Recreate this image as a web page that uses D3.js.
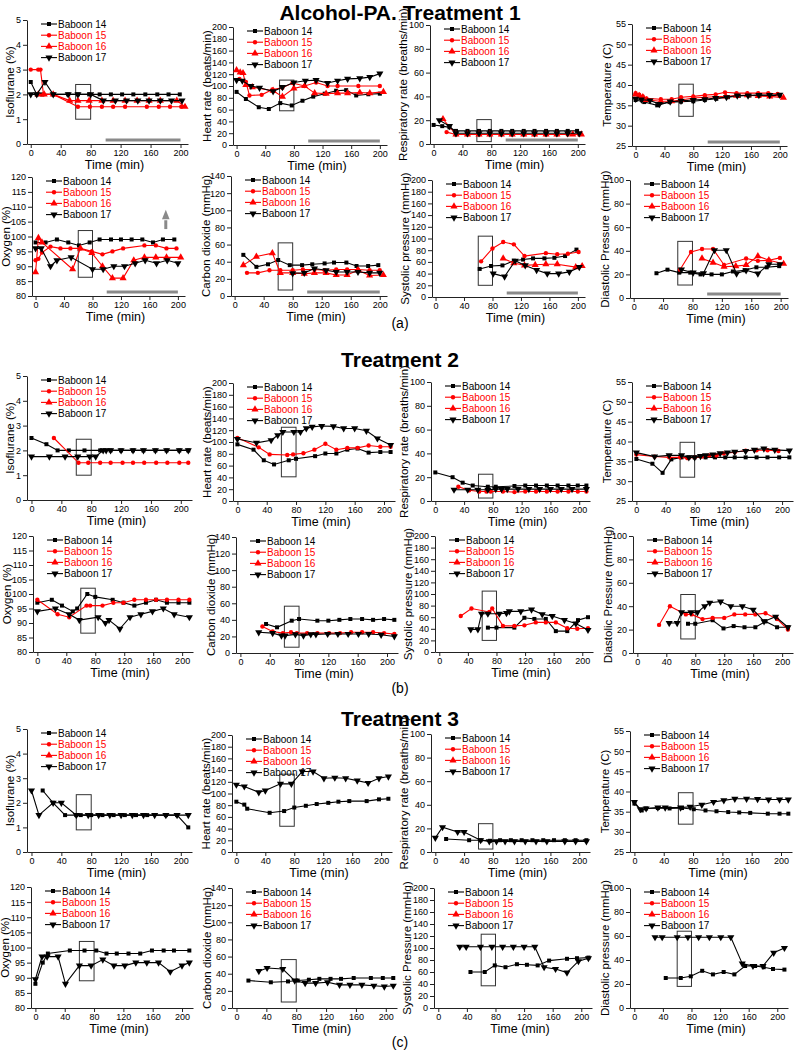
<!DOCTYPE html>
<html><head><meta charset="utf-8">
<script src="https://cdn.jsdelivr.net/npm/d3@7"></script>
<style>
body{margin:0;background:#fff}
svg{display:block}
text{font-family:"Liberation Sans",Arial,sans-serif}
</style>
</head><body>
<svg id="c" width="800" height="1050"></svg>
<script>
// ---------------- DATA ([time (min), value]) ----------------
// Treatment 1
const t1_iso_b14 = [[0,2.5],[8,2],[15,2],[30,2],[50,2],[63,2],[78,2],[92,2],[107,2],[122,2],[137,2],[153,2],[169,2],[184,2],[199,2]];
const t1_iso_b15 = [[0,3],[10,3],[13,3],[17,2],[30,2],[63,1.5],[79,1.5],[95,1.5],[110,1.5],[126,1.5],[155,1.5],[171,1.5],[186,1.5],[201,1.5]];
const t1_iso_b16 = [[10,2],[18,2],[30,2],[52,1.75],[63,1.75],[78,1.75],[95,1.75],[110,1.75],[126,1.75],[142,1.75],[158,1.75],[173,1.75],[195,1.75],[206,1.5]];
const t1_iso_b17 = [[0,2],[8,2],[19,2.5],[30,2],[50,2],[63,2],[80,2],[97,1.75],[113,1.75],[128,1.75],[143,1.75],[158,1.75],[173,1.75],[188,1.75],[202,1.75]];

const t1_hr_b14 = [[0,90],[13,78],[31,64],[45,61],[61,71],[77,67],[92,75],[107,82],[123,87],[139,92],[153,93],[167,84],[184,86],[200,87]];
const t1_hr_b15 = [[4,112],[13,107],[18,84],[35,85],[50,94],[64,97],[78,105],[95,100],[111,106],[127,100],[141,100],[170,100],[200,100]];
const t1_hr_b16 = [[0,127],[5,123],[9,122],[13,102],[22,98],[51,92],[64,82],[80,96],[95,100],[109,88],[125,87],[141,88],[155,88],[172,89],[186,88],[205,90]];
const t1_hr_b17 = [[0,110],[8,109],[20,100],[32,97],[51,91],[64,98],[80,106],[96,109],[111,110],[127,105],[141,109],[155,112],[172,113],[186,115],[200,121]];

const t1_rr_b14 = [[0,16],[12,15],[22,14],[31,11],[47,11],[63,11],[78,11],[94,11],[109,11],[125,11],[140,11],[156,11],[171,11],[186,11],[199,11]];
const t1_rr_b15 = [[18,10],[31,8],[47,8],[63,8],[78,8],[94,8],[109,8],[125,8],[140,8],[156,8],[171,8],[186,8],[202,8]];
const t1_rr_b16 = [[13,21],[31,8],[47,8],[63,8],[78,8],[94,8],[109,8],[125,8],[140,8],[156,8],[171,8],[193,8],[205,8]];
const t1_rr_b17 = [[8,20],[22,15],[31,9],[47,9],[63,9],[78,9],[94,9],[109,9],[125,9],[140,9],[156,9],[171,9],[186,9],[202,9]];

const t1_temp_b14 = [[0,36.3],[12,35.8],[30,35.0],[47,35.8],[63,35.9],[80,36.0],[96,36.3],[112,36.6],[128,37.0],[143,37.3],[158,37.4],[172,37.5],[186,37.4],[200,37.4]];
const t1_temp_b15 = [[0,38.0],[5,37.6],[10,37.2],[15,36.7],[35,36.5],[50,36.5],[63,37.0],[80,37.2],[96,37.5],[111,37.7],[124,38.2],[140,38.0],[155,38.0],[170,38.0],[184,38.0],[197,37.8]];
const t1_temp_b16 = [[0,37.7],[5,37.3],[10,37.0],[15,36.3],[35,36.0],[50,36.0],[63,36.3],[80,36.8],[96,37.0],[111,37.1],[125,37.2],[140,37.4],[155,37.5],[170,37.3],[186,37.2],[205,36.9]];
const t1_temp_b17 = [[0,36.6],[8,36.4],[20,36.2],[33,35.3],[48,35.9],[63,36.1],[80,36.3],[96,36.5],[111,36.8],[126,37.0],[141,37.4],[156,37.4],[171,37.5],[186,37.5],[200,37.6]];

const t1_o2_b14 = [[0,98],[14,98],[30,99],[46,98],[61,97],[76,98],[90,99],[106,99],[120,99],[135,99],[150,99],[165,98],[179,99],[195,99]];
const t1_o2_b15 = [[0,92],[4,92.5],[9,94.6],[21,96.6],[35,96],[49,96],[63,96],[79,95],[94,94],[108,95],[123,96],[153,97],[169,97],[184,96],[198,96]];
const t1_o2_b16 = [[0,88],[4,99.5],[9,98],[52,89],[63,96],[79,94.5],[94,90],[108,86],[123,86],[138,92],[153,93],[169,93],[184,93],[204,93]];
const t1_o2_b17 = [[0,96],[8,96],[21,90],[30,92],[50,93],[80,89],[95,89],[110,90],[125,90],[140,91],[154,92],[170,91],[185,92],[200,91]];

const t1_co2_b14 = [[12,48],[30,34],[46,37],[60,42],[76,36],[93,36],[107,37],[124,38],[137,39],[154,39],[168,35],[184,35],[198,36]];
const t1_co2_b15 = [[17,27],[32,27],[48,30],[63,30],[80,30],[94,31],[110,31],[124,30],[140,31],[155,31],[170,31],[186,30],[200,30]];
const t1_co2_b16 = [[12,36],[30,46],[52,50],[63,27],[80,27],[96,26],[110,27],[126,27],[140,24.5],[155,24.5],[170,30],[186,24],[205,24.5]];
const t1_co2_b17 = [[80,26.5],[96,27],[110,32],[126,30],[140,28],[155,28],[170,28],[186,27],[200,27]];

const t1_sys_b14 = [[62,48],[78,53],[94,54],[110,62],[123,64],[137,66],[153,66],[167,67],[182,70],[198,81]];
const t1_sys_b15 = [[64,61],[80,83],[95,94],[110,90],[125,70],[155,75],[171,73],[186,74],[201,77]];
const t1_sys_b16 = [[95,66],[110,58],[125,54],[140,55],[155,56],[171,56],[197,51],[206,53]];
const t1_sys_b17 = [[81,40],[97,35],[112,62],[126,54],[142,46],[157,40],[173,40],[188,43],[202,51]];

const t1_dia_b14 = [[31,21],[46,24],[62,21.5],[77,21.5],[91,20],[106,20],[120,20],[135,22.5],[151,23.5],[167,26],[181,26],[198,27]];
const t1_dia_b15 = [[63,24],[78,39],[93,41.5],[108,41.5],[123,28],[153,33.5],[169,31.5],[184,32],[199,34]];
const t1_dia_b16 = [[93,33.5],[108,30],[123,26.5],[139,27],[153,28],[169,35.5],[184,32],[204,29]];
const t1_dia_b17 = [[65,24],[81,21.5],[95,21],[110,40.5],[126,40.5],[140,20.7],[153,23.5],[169,20.7],[184,28.6],[199,28.6]];

// Treatment 2
const t2_iso_b14 = [[0,2.5],[20,2.25],[35,2],[50,2],[71,2],[92,2],[106,2],[120,2],[136,2],[150,2],[166,2],[181,2],[198,2],[210,2]];
const t2_iso_b15 = [[30,2.5],[63,1.5],[76,1.5],[92,1.5],[106,1.5],[122,1.5],[136,1.5],[151,1.5],[167,1.5],[182,1.5],[198,1.5],[210,1.5]];
const t2_iso_b16 = [];
const t2_iso_b17 = [[0,1.75],[24,1.75],[45,1.75],[62,1.75],[78,1.75],[86,1.75],[96,2],[100,2],[106,2],[120,2],[136,2],[150,2],[166,2],[181,2],[198,2],[210,2]];

const t2_hr_b14 = [[0,96],[22,87],[36,69],[50,62],[70,69],[80,71.5],[106,76],[120,80.5],[135,80.5],[150,87],[164,89],[179,82],[195,83],[209,83]];
const t2_hr_b15 = [[0,107],[29,91],[44,79],[68,78],[76,79],[90,81],[105,87],[120,97],[135,87],[150,90],[164,90],[179,94],[195,92],[209,92]];
const t2_hr_b16 = [];
const t2_hr_b17 = [[0,105],[26,98.6],[46,103],[55,111.5],[62,117],[77,117],[86,117],[94,123],[102,125.6],[115,127],[131,126.5],[145,123],[160,123],[176,119],[191,106],[209,95]];

const t2_rr_b14 = [[0,24],[24,20],[38,15.4],[52,13],[73,12],[84,12],[110,12.6],[125,13],[140,13],[155,13],[170,13],[185,13],[198,13],[210,13]];
const t2_rr_b15 = [[32,12],[47,9],[61,8],[71,8],[77,8],[94,8],[110,7.5],[125,8],[140,8],[155,8],[170,8],[185,8],[198,8],[210,8]];
const t2_rr_b16 = [];
const t2_rr_b17 = [[26,9.5],[45,9.5],[59,9.5],[73,9.5],[84,10],[92,10],[100,10],[115,10],[130,10],[145,10],[160,10],[175,10],[190,10],[210,10]];

const t2_temp_b14 = [[0,35.6],[22,34.4],[36,32.1],[48,35.5],[62,36],[72,36],[80,36],[95,36],[108,36],[122,36],[135,36],[150,36],[165,36],[180,36],[196,36],[210,36]];
const t2_temp_b15 = [[0,36.7],[25,36.2],[45,36],[60,36],[70,35.8],[80,36],[90,36.2],[100,36.5],[110,36.5],[120,37],[135,37.3],[150,37.7],[165,37.8],[180,37.8],[195,37.6]];
const t2_temp_b16 = [];
const t2_temp_b17 = [[0,37.2],[25,36.2],[45,36.5],[62,36.5],[72,36],[80,36],[88,36.3],[95,36.5],[105,36.7],[115,37],[125,37.2],[135,37.4],[150,37.6],[162,37.9],[175,38.2],[190,37.9],[210,37.7]];

const t2_o2_b14 = [[0,97],[20,98],[34,96],[49,94],[55,95],[69,100],[80,99],[104,98],[119,97],[134,96],[150,97],[164,98],[179,97],[195,97],[210,97]];
const t2_o2_b15 = [[0,98],[28,93],[44,92],[68,96],[73,96],[90,96],[105,97],[119,97],[134,98],[150,98],[164,98],[179,98],[195,98],[210,98]];
const t2_o2_b16 = [];
const t2_o2_b17 = [[0,94],[25,95],[44,93],[58,91],[84,92],[94,90],[99,91],[114,88],[128,92],[143,93],[159,94],[174,95],[189,93],[210,92]];

const t2_co2_b14 = [[35,35],[50,31],[70,39],[80,41],[105,39],[120,39],[135,40],[150,41],[166,41],[181,40],[196,41],[210,40]];
const t2_co2_b15 = [[30,32],[44,26],[58,24],[69,25],[77,24],[91,24],[105,24],[121,24],[136,24],[151,25],[166,25],[181,25],[196,24],[210,23]];
const t2_co2_b16 = [];
const t2_co2_b17 = [[25,25],[44,24],[56,21],[61,21],[75,22.5],[86,21],[96,22.5],[103,22.5],[119,23],[133,23],[147,23],[161,23],[175,23],[192,22],[210,20]];

const t2_sys_b14 = [[68,42],[80,42],[105,42],[119,59],[133,57],[149,57],[163,36],[179,36],[194,55],[208,60]];
const t2_sys_b15 = [[30,62],[45,75],[70,69],[74,75],[89,45],[105,45],[119,46],[135,51],[149,51],[163,51],[179,41],[193,40],[208,41]];
const t2_sys_b16 = [];
const t2_sys_b17 = [[44,39],[54,39],[59,66],[68,66],[84,66],[94,67],[98,70],[114,70],[129,73],[144,65],[158,62],[175,55],[191,49],[208,38]];

const t2_dia_b14 = [[70,25],[80,25],[104,28],[119,21],[133,23],[148,22],[163,22],[177,27],[193,22],[208,22]];
const t2_dia_b15 = [[30,24],[45,40],[67,33],[75,33],[90,29],[104,30],[120,30],[134,33],[149,33],[163,33],[177,34],[193,29],[208,20]];
const t2_dia_b16 = [];
const t2_dia_b17 = [[44,25.6],[55,25.6],[61,34.7],[74,34.7],[83,34.7],[93,40],[100,43],[115,44],[129,40],[145,40],[160,37],[175,27],[191,31],[208,22]];

// Treatment 3
const t3_iso_b14 = [[15,2.5],[29,2],[45,1.5],[60,1.5],[66,1.5],[80,1.5],[95,1.5],[110,1.5],[125,1.5],[140,1.5],[155,1.5],[180,1.5],[195,1.5],[210,1.0]];
const t3_iso_b17 = [[0,2.5],[10,1.5],[29,2],[40,2],[60,1.5],[76,1.5],[90,1.5],[105,1.5],[120,1.5],[135,1.5],[150,1.5],[165,1.5],[180,1.5],[195,1.5],[210,1.5]];
const t3_hr_b14 = [[0,86],[11,81],[15,74],[46,67],[66,70],[80,76],[96,79],[111,82],[127,84],[141,86],[156,87],[180,87],[197,90],[210,91]];
const t3_hr_b17 = [[0,115],[11,112],[31,102],[40,105],[61,116.5],[76,116.5],[91,137.5],[106,137.5],[121,126],[136,127],[151,126],[167,122],[182,118],[197,126],[210,129]];
const t3_rr_b14 = [[15,11],[47,10],[63,10],[76,9.5],[90,10],[105,10],[120,10],[135,10],[150,10],[165,10],[180,10],[195,10],[210,10]];
const t3_rr_b17 = [[0,12],[10,21],[31,17],[40,17],[63,10],[75,9],[85,9],[97,9],[110,9],[125,9],[140,9],[155,9],[180,9],[195,9],[210,9]];
const t3_temp_b14 = [[0,37],[10,35.3],[16,35.8],[32,35.9],[48,35.8],[65,35.9],[81,35.6],[97,35.3],[112,35.1],[128,34.9],[143,34.8],[158,34.7],[182,34.5],[198,34.5],[210,34.5]];
const t3_temp_b17 = [[0,37.4],[8,35.6],[16,35.8],[32,36],[42,36],[63,36],[76,36.2],[92,36.7],[108,37.4],[122,37.8],[137,38.2],[153,38.2],[168,38.1],[183,38],[198,38],[210,38]];
const t3_o2_b14 = [[0,88],[10,95],[17,98],[47,99],[67,99],[83,99],[97,98],[111,98],[127,98],[143,98],[159,99],[175,99],[189,99],[210,99]];
const t3_o2_b17 = [[0,89.5],[9,97],[16,97],[31,97],[41,88],[60,94],[76,94],[92,96],[107,94],[122,94],[137,95],[152,95],[168,95],[184,92],[200,94],[210,95]];
const t3_co2_b14 = [[16,32],[46,30],[69,31],[82,32],[97,33],[111,34],[126,34],[140,34],[157,35],[180,35],[196,35],[210,35]];
const t3_co2_b17 = [[30,43],[41,46.7],[62,45.5],[78,32],[92,29],[106,29],[122,30],[138,27],[152,27],[168,27],[184,26],[198,25],[210,26]];
const t3_sys_b14 = [[45,60],[65,60],[79,71],[94,68],[110,73],[124,72],[139,71],[155,79],[180,82],[194,83],[210,84]];
const t3_sys_b17 = [[30,102],[39,102],[59,102],[75,102],[90,102],[105,102],[120,102],[135,102],[148,68],[164,65],[180,59],[196,78],[210,83]];
const t3_dia_b14 = [[44,25],[65,25],[79,26.4],[95,31],[110,28],[125,30],[140,28],[155,35],[169,35],[181,34],[194,32.5],[210,32]];
const t3_dia_b17 = [[29,59],[39,59],[60,59],[75,59],[90,59],[105,59],[121,59],[135,59],[151,37],[166,35],[180,35],[195,46],[210,50]];
const none = [];

// Axis titles
const yTitlesT1 = ['Isoflurane (%)','Heart rate (beats/min)','Respiratory rate (breaths/min)','Temperature (C)','Oxygen (%)','Carbon dioxide (mmHg)','Systolic pressure (mmHg)','Diastolic Pressure (mmHg)'];
const yTitlesT2 = ['Isoflurane (%)','Heart rate (beats/min)','Respiratory rate (breaths/min)','Temperature (C)','Oxygen (%)','Carbon dioxide (mmHg)','Systolic pressure (mmHg)','Diastolic Pressure (mmHg)'];
const yTitlesT3 = ['Isoflurane (%)','Heart rate (beats/min)','Respiratory rate (breaths/min)','Temperature (C)','Oxygen (%)','Carbon dioxide (mmHg)','Systolic Pressure (mmHg)','Diastolic pressure (mmHg)'];
const xTicks = [0,40,80,120,160,200];
const seriesNames = ['Baboon 14','Baboon 15','Baboon 16','Baboon 17'];
const treatmentTitles = ['Alcohol-PA. Treatment 1','Treatment 2','Treatment 3'];
const subLabels = ['(a)','(b)','(c)'];
// y ranges of marked boxes (x range 60-80 min)
const boxT1 = [[1.0,2.4],[58,110],[2,20.5],[32.3,40.2],[86.3,102],[7,62],[20,104],[11,48]];
const boxT2 = [[1.0,2.45],[41,125],[2.5,22.5],[31,39.8],[86.5,102],[7,56.5],[20,105],[12,50]];
const boxT3 = [[0.9,2.33],[44,133],[2.5,24],[31.9,39.7],[89,102],[7,56.5],[37,123],[18,64]];
const boxTime = [60,80];
const barTime = [100,200];
const arrowO2 = [183,102.5,109];   // time, from, to

// ---------------- CONFIG ----------------
const varDefs = [
  {dom:[0,5],step:1,minor:0.5,off:17},
  {dom:[0,200],step:20,minor:10,off:26},
  {dom:[0,100],step:20,minor:10,off:27},
  {dom:[25,55],step:5,minor:2.5,off:25},
  {dom:[80,120],step:5,minor:2.5,off:26},
  {dom:[0,140],step:20,minor:10,off:25},
  {dom:[0,200],step:20,minor:10,off:27},
  {dom:[0,100],step:20,minor:10,off:25}
];
const layout = [
 [27,188,20,144],[233,387,27,145],[430,585,25,144],[632,787,24,146],
 [32,185,177,296],[231,387,176,296],[432,585,180,297],[630,788,180,298],
 [27,192,376,500],[233,395,383,501],[431,590,382,501],[632,793,382,501],
 [33,193,536,652],[236,398,537,653],[435,593,536,652],[633,793,536,653],
 [27,192,729,852],[232,392,735,852],[431,590,734,852],[630,792,731,852],
 [31,193,887,1008],[232,397,888,1008],[434,592,888,1008],[630,788,888,1008]
];
const T = [
  {xdom:[-5,210], titles:yTitlesT1, boxes:boxT1, bar:true, series:[
    [t1_iso_b14,t1_iso_b15,t1_iso_b16,t1_iso_b17],[t1_hr_b14,t1_hr_b15,t1_hr_b16,t1_hr_b17],
    [t1_rr_b14,t1_rr_b15,t1_rr_b16,t1_rr_b17],[t1_temp_b14,t1_temp_b15,t1_temp_b16,t1_temp_b17],
    [t1_o2_b14,t1_o2_b15,t1_o2_b16,t1_o2_b17],[t1_co2_b14,t1_co2_b15,t1_co2_b16,t1_co2_b17],
    [t1_sys_b14,t1_sys_b15,t1_sys_b16,t1_sys_b17],[t1_dia_b14,t1_dia_b15,t1_dia_b16,t1_dia_b17]]},
  {xdom:[-6,215], titles:yTitlesT2, boxes:boxT2, bar:false, series:[
    [t2_iso_b14,t2_iso_b15,t2_iso_b16,t2_iso_b17],[t2_hr_b14,t2_hr_b15,t2_hr_b16,t2_hr_b17],
    [t2_rr_b14,t2_rr_b15,t2_rr_b16,t2_rr_b17],[t2_temp_b14,t2_temp_b15,t2_temp_b16,t2_temp_b17],
    [t2_o2_b14,t2_o2_b15,t2_o2_b16,t2_o2_b17],[t2_co2_b14,t2_co2_b15,t2_co2_b16,t2_co2_b17],
    [t2_sys_b14,t2_sys_b15,t2_sys_b16,t2_sys_b17],[t2_dia_b14,t2_dia_b15,t2_dia_b16,t2_dia_b17]]},
  {xdom:[-6,215], titles:yTitlesT3, boxes:boxT3, bar:false, series:[
    [t3_iso_b14,none,none,t3_iso_b17],[t3_hr_b14,none,none,t3_hr_b17],
    [t3_rr_b14,none,none,t3_rr_b17],[t3_temp_b14,none,none,t3_temp_b17],
    [t3_o2_b14,none,none,t3_o2_b17],[t3_co2_b14,none,none,t3_co2_b17],
    [t3_sys_b14,none,none,t3_sys_b17],[t3_dia_b14,none,none,t3_dia_b17]]}
];
const colors = ['#000','#f00','#f00','#000'];
const syms = ['square','circle','up','down'];

const svg = d3.select('#c');

function symPath(kind){
  if(kind==='square') return d3.symbol(d3.symbolSquare, 16)();
  if(kind==='circle') return d3.symbol(d3.symbolCircle, 15)();
  return d3.symbol(d3.symbolTriangle, 22)();
}
function drawSym(g, kind, x, y, color){
  g.append('path').attr('d', symPath(kind))
    .attr('transform', `translate(${x},${y})` + (kind==='down' ? ' rotate(180)' : ''))
    .attr('fill', color);
}

function drawPanel(ti, vi){
  const tr = T[ti], vd = varDefs[vi];
  const [L,R,Tp,B] = layout[ti*8+vi];
  const x = d3.scaleLinear().domain(tr.xdom).range([L,R]);
  const y = d3.scaleLinear().domain(vd.dom).range([B,Tp]);
  const g = svg.append('g');

  if (tr.bar) {
    g.append('line').attr('x1',x(barTime[0])).attr('x2',x(barTime[1]))
      .attr('y1',B-4).attr('y2',B-4).attr('stroke','#8a8a8a').attr('stroke-width',3);
  }
  // axes
  const eps = 1e-9;
  const yMajor = d3.range(vd.dom[0], vd.dom[1]+eps, vd.step);
  const yMinor = d3.range(vd.dom[0], vd.dom[1]+eps, vd.minor);
  const ya = g.append('g').attr('transform',`translate(${L},0)`);
  ya.call(d3.axisLeft(y).tickValues(yMinor).tickSize(2).tickSizeOuter(0).tickFormat(''));
  ya.call(d3.axisLeft(y).tickValues(yMajor).tickSize(4).tickSizeOuter(0).tickPadding(2).tickFormat(d3.format('d')));
  const xa = g.append('g').attr('transform',`translate(0,${B})`);
  xa.call(d3.axisBottom(x).tickValues(d3.range(0,201,20)).tickSize(2).tickSizeOuter(0).tickFormat(''));
  xa.call(d3.axisBottom(x).tickValues(xTicks).tickSize(4).tickSizeOuter(0).tickPadding(2));
  g.selectAll('.tick text').attr('font-size',9).attr('fill','#000')
    .attr('font-family','"Liberation Sans",Arial,sans-serif');
  g.selectAll('.domain, .tick line').attr('stroke','#222');

  // axis titles
  g.append('text').attr('x',(L+R)/2+7).attr('y',B+25).attr('text-anchor','middle')
    .attr('font-size',12.5).text('Time (min)');
  const cy = (Tp+B)/2, lx = L - vd.off + 4;
  g.append('text').attr('transform',`translate(${lx},${cy}) rotate(-90)`)
    .attr('text-anchor','middle').attr('font-size',11.5).text(tr.titles[vi]);

  // box
  const bx = tr.boxes[vi];
  g.append('rect').attr('x',x(boxTime[0])).attr('width',x(boxTime[1])-x(boxTime[0]))
    .attr('y',y(bx[1])).attr('height',y(bx[0])-y(bx[1]))
    .attr('fill','none').attr('stroke','#333').attr('stroke-width',1);

  // arrow (treatment 1 oxygen)
  if (ti===0 && vi===4) {
    const ax = x(arrowO2[0]);
    const yb = y(arrowO2[1]), yt = y(arrowO2[2]), yh = y(arrowO2[2]-3.2);
    g.append('line').attr('x1',ax).attr('x2',ax).attr('y1',yb).attr('y2',yh+1)
      .attr('stroke','#8a8a8a').attr('stroke-width',3);
    g.append('path').attr('d',`M${ax-3.8},${yh}L${ax+3.8},${yh}L${ax},${yt}Z`).attr('fill','#8a8a8a');
  }

  // series
  const line = d3.line().x(d=>x(d[0])).y(d=>y(d[1]));
  tr.series[vi].forEach((data,si)=>{
    if (!data.length) return;
    g.append('path').attr('d',line(data)).attr('fill','none')
      .attr('stroke',colors[si]).attr('stroke-width',1.1);
    data.forEach(d=>drawSym(g, syms[si], x(d[0]), y(d[1]), colors[si]));
  });

  // legend
  seriesNames.forEach((nm,si)=>{
    const ly = Tp + 4 + si*11.2;
    const lx0 = L + 14;
    g.append('line').attr('x1',lx0).attr('x2',lx0+16).attr('y1',ly).attr('y2',ly)
      .attr('stroke',colors[si]).attr('stroke-width',1.1);
    drawSym(g, syms[si], lx0+8, ly, colors[si]);
    g.append('text').attr('x',lx0+17).attr('y',ly).attr('dy','0.35em')
      .attr('font-size',10).attr('fill',colors[si]).text(nm);
  });
}

for (let ti=0; ti<3; ti++) for (let vi=0; vi<8; vi++) drawPanel(ti, vi);

// titles
const titleY = [20, 367, 726];
treatmentTitles.forEach((t,i)=>{
  svg.append('text').attr('x',400).attr('y',titleY[i]).attr('text-anchor','middle')
    .attr('font-size',21).attr('font-weight','bold').text(t);
});
const subY = [328, 693, 1047];
subLabels.forEach((t,i)=>{
  svg.append('text').attr('x',400).attr('y',subY[i]).attr('text-anchor','middle')
    .attr('font-size',14).attr('font-family','"Liberation Serif","Times New Roman",serif').text(t);
});
</script>
</body></html>
